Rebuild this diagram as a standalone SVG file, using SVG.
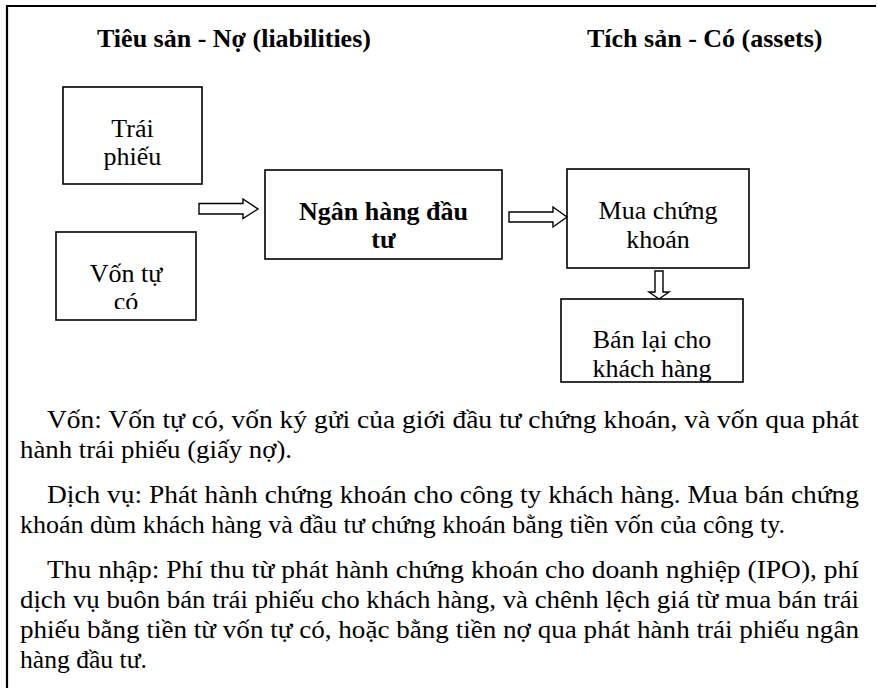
<svg xmlns="http://www.w3.org/2000/svg" width="878" height="688" viewBox="0 0 878 688">
<style>
text{font-family:"Liberation Serif","Times New Roman",serif;fill:#000}
.h{font-size:26px;font-weight:bold}
.b{font-size:26px;text-anchor:middle}
.bb{font-size:26px;font-weight:bold;text-anchor:middle}
.p{font-size:26px}
.box{fill:#fff;stroke:#000;stroke-width:1.6}
.arr{fill:#fff;stroke:#000;stroke-width:1.4;stroke-linejoin:miter}
</style>
<defs>
<clipPath id="cv"><rect x="56" y="232" width="140" height="77"/></clipPath>
</defs>
<rect width="878" height="688" fill="#fff"/>
<g id="frame"><path d="M7,688 V6 H876" fill="none" stroke="#000" stroke-width="2.2"/></g>
<g id="headings">
<text class="h" x="97" y="47">Tiêu sản - Nợ (liabilities)</text>
<text class="h" x="587" y="47">Tích sản - Có (assets)</text>
</g>
<g id="traiphieu">
<rect class="box" x="63" y="87" width="139" height="97"/>
<text class="b" x="132.5" y="137">Trái</text>
<text class="b" x="132.5" y="165">phiếu</text>
</g>
<g id="vontuco">
<rect class="box" x="56" y="232" width="140" height="88"/>
<g clip-path="url(#cv)">
<text class="b" x="126" y="282">Vốn tự</text>
<text class="b" x="126" y="310">có</text>
</g>
</g>
<g id="nganhang">
<rect class="box" x="265" y="170" width="237" height="89"/>
<text class="bb" x="383.5" y="220">Ngân hàng đầu</text>
<text class="bb" x="383.5" y="248">tư</text>
</g>
<g id="muachungkhoan">
<rect class="box" x="567" y="169" width="182" height="99"/>
<text class="b" x="658" y="219">Mua chứng</text>
<text class="b" x="658" y="248">khoán</text>
</g>
<g id="banlai">
<rect class="box" x="561" y="299" width="182" height="83"/>
<text class="b" x="652" y="348">Bán lại cho</text>
<text class="b" x="652" y="377">khách hàng</text>
</g>
<g id="connectors">
<path class="arr" d="M199,203.5 H243 V199 L258,209 L243,218.5 V214 H199 Z"/>
<path class="arr" d="M509,212 H553 V207 L567,217 L553,227 V222 H509 Z"/>
<path class="arr" d="M655,271 H663 V292 H669 L659,299 L649,292 H655 Z"/>
</g>
<g id="notes">
<text class="p" x="47" y="428" textLength="812" lengthAdjust="spacingAndGlyphs">Vốn: Vốn tự có, vốn ký gửi của giới đầu tư chứng khoán, và vốn qua phát</text>
<text class="p" x="20" y="458" textLength="272" lengthAdjust="spacingAndGlyphs">hành trái phiếu (giấy nợ).</text>
<text class="p" x="47" y="503" textLength="812" lengthAdjust="spacingAndGlyphs">Dịch vụ: Phát hành chứng khoán cho công ty khách hàng. Mua bán chứng</text>
<text class="p" x="20" y="533" textLength="765" lengthAdjust="spacingAndGlyphs">khoán dùm khách hàng và đầu tư chứng khoán bằng tiền vốn của công ty.</text>
<text class="p" x="47" y="578" textLength="812" lengthAdjust="spacingAndGlyphs">Thu nhập: Phí thu từ phát hành chứng khoán cho doanh nghiệp (IPO), phí</text>
<text class="p" x="20" y="608" textLength="839" lengthAdjust="spacingAndGlyphs">dịch vụ buôn bán trái phiếu cho khách hàng, và chênh lệch giá từ mua bán trái</text>
<text class="p" x="20" y="638" textLength="839" lengthAdjust="spacingAndGlyphs">phiếu bằng tiền từ vốn tự có, hoặc bằng tiền nợ qua phát hành trái phiếu ngân</text>
<text class="p" x="20" y="668" textLength="127" lengthAdjust="spacingAndGlyphs">hàng đầu tư.</text>
</g>
</svg>
